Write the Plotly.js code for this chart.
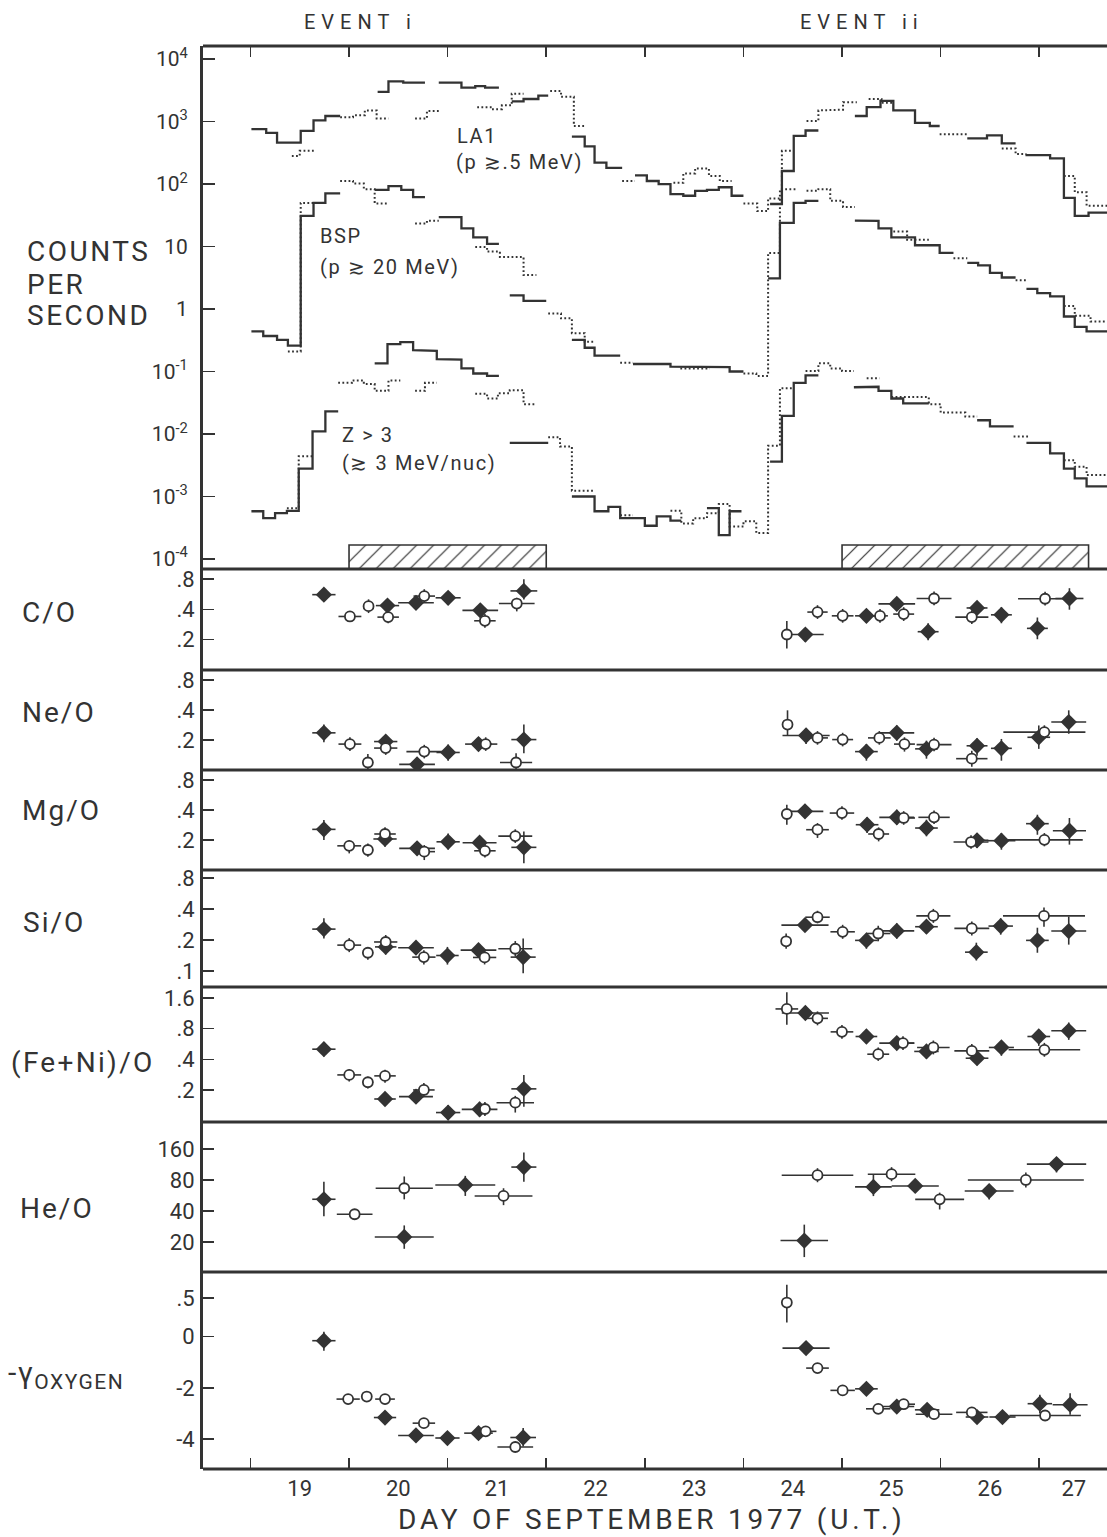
<!DOCTYPE html>
<html><head><meta charset="utf-8">
<script src="https://cdn.plot.ly/plotly-3.0.1.min.js"></script>
<style>html,body{margin:0;padding:0;background:#fff}</style>
</head><body>
<div id="chart" style="width:1107px;height:1537px"></div>
<script>
// ---------- DATA ----------
// Top panel histograms: [bin start day, counts/s]; null value = gap (end of a run)
const la1Solid = [[19.01,760],[19.16,660],[19.27,460],[19.51,710],[19.64,1050],[19.76,1230],[19.91,null],
 [20.29,3000],[20.40,4400],[20.55,4200],[20.77,null],
 [20.91,4200],[21.14,3500],[21.28,3700],[21.38,3500],[21.52,null],
 [21.65,2100],[21.77,2300],[21.92,2600],[22.02,null],
 [22.26,575],[22.39,400],[22.49,220],[22.61,182],[22.77,null],
 [22.90,138],[23.02,112],[23.14,100],[23.26,69],[23.39,65],[23.51,78],[23.63,81],[23.75,89],[23.88,65],[24.00,null],
 [24.27,48],[24.39,162],[24.51,590],[24.63,720],[24.76,null],
 [25.13,1230],[25.25,1700],[25.39,2140],[25.52,1510],[25.74,955],[25.89,850],[25.99,null],
 [26.27,537],[26.47,600],[26.62,447],[26.76,null],
 [26.86,290],[27.11,257],[27.25,60],[27.36,31],[27.50,35],[27.69,null]];
const la1Dotted = [[19.42,282],[19.50,340],[19.66,null],
 [19.91,1175],[20.04,1260],[20.16,1510],[20.28,1120],[20.40,null],
 [20.67,1120],[20.79,1480],[20.92,null],
 [21.30,1700],[21.45,1580],[21.55,1820],[21.65,2800],[21.77,null],
 [22.04,3100],[22.15,2500],[22.28,850],[22.39,null],
 [22.77,112],[22.90,null],
 [23.29,105],[23.39,148],[23.51,178],[23.65,135],[23.76,112],[23.88,null],
 [24.00,49],[24.14,37],[24.25,59],[24.39,340],[24.51,null],
 [24.64,1020],[24.76,1510],[24.90,1550],[25.01,2040],[25.15,null],
 [25.27,2290],[25.40,2000],[25.52,null],
 [25.99,630],[26.27,null],
 [26.62,372],[26.76,302],[26.87,null],
 [27.25,135],[27.36,74],[27.48,45],[27.69,null]];
const bspSolid = [[19.01,0.44],[19.13,0.37],[19.27,0.32],[19.38,0.26],[19.51,31],[19.64,50],[19.76,71],[19.91,null],
 [20.26,81],[20.40,93],[20.53,81],[20.65,62],[20.77,null],
 [20.91,29.5],[21.14,19.5],[21.26,14],[21.40,11],[21.52,null],
 [21.63,1.66],[21.77,1.35],[22.00,null],
 [22.26,0.32],[22.39,0.24],[22.49,0.18],[22.75,null],
 [22.88,0.132],[23.26,0.12],[23.53,0.118],[23.86,0.10],[24.00,null],
 [24.25,3.1],[24.37,24],[24.51,50],[24.63,54],[24.76,null],
 [25.13,26],[25.25,25.7],[25.37,19.5],[25.50,14],[25.74,10.5],[25.99,7.9],[26.13,null],
 [26.27,5.5],[26.38,5.0],[26.50,3.8],[26.62,3.2],[26.76,null],
 [26.87,2.1],[26.98,1.8],[27.11,1.6],[27.25,0.76],[27.36,0.52],[27.48,0.44],[27.69,null]];
const bspDotted = [[19.38,0.21],[19.51,50],[19.64,null],
 [19.91,112],[20.04,102],[20.15,83],[20.26,49],[20.40,null],
 [20.67,23.4],[20.79,26],[20.91,null],
 [21.28,9.8],[21.40,8.3],[21.53,6.8],[21.77,3.5],[21.90,null],
 [22.02,0.85],[22.15,0.71],[22.26,0.41],[22.39,0.30],[22.49,null],
 [22.75,0.138],[22.88,null],
 [23.36,0.112],[23.66,null],
 [24.00,0.093],[24.13,0.085],[24.25,7.9],[24.37,83],[24.54,null],
 [24.64,78],[24.76,83],[24.88,54],[25.01,43],[25.13,null],
 [25.52,17.4],[25.66,12.9],[25.88,null],
 [26.13,6.5],[26.27,null],
 [26.76,2.9],[26.87,null],
 [27.25,1.12],[27.36,0.78],[27.52,0.63],[27.69,null]];
const zSolid = [[19.01,5.8e-4],[19.13,4.5e-4],[19.25,5.4e-4],[19.37,5.9e-4],[19.49,2.8e-3],[19.63,1.1e-2],[19.76,2.3e-2],[19.89,null],
 [20.26,0.135],[20.39,0.275],[20.52,0.295],[20.65,0.22],[20.77,0.215],[20.89,0.158],[21.02,0.155],[21.14,0.112],[21.26,0.093],[21.40,0.085],[21.52,null],
 [21.63,7.2e-3],[22.02,null],
 [22.26,1.0e-3],[22.49,5.8e-4],[22.63,6.8e-4],[22.75,4.5e-4],[23.00,3.4e-4],[23.12,4.8e-4],[23.26,4.1e-4],[23.37,null],
 [23.63,6.5e-4],[23.75,2.4e-4],[23.86,5.8e-4],[23.98,null],
 [24.27,3.6e-3],[24.39,1.95e-2],[24.51,6.6e-2],[24.63,8.7e-2],[24.76,null],
 [25.12,0.056],[25.25,0.057],[25.37,0.049],[25.50,0.037],[25.62,0.031],[25.88,null],
 [26.37,0.0166],[26.50,0.0132],[26.74,null],
 [26.87,7.2e-3],[27.11,4.9e-3],[27.25,2.8e-3],[27.36,1.95e-3],[27.48,1.45e-3],[27.69,null]];
const zDotted = [[19.37,6.5e-4],[19.49,4.4e-3],[19.63,null],
 [19.89,0.066],[20.03,0.072],[20.15,0.063],[20.26,0.049],[20.40,0.072],[20.52,null],
 [20.67,0.049],[20.77,0.066],[20.89,null],
 [21.28,0.044],[21.40,0.037],[21.51,0.045],[21.63,0.050],[21.77,0.030],[21.90,null],
 [22.02,8.9e-3],[22.14,6.3e-3],[22.26,1.23e-3],[22.49,null],
 [22.75,5.0e-4],[22.88,null],
 [23.26,5.9e-4],[23.37,3.7e-4],[23.49,4.5e-4],[23.63,5.4e-4],[23.75,7.6e-4],[23.86,3.3e-4],[24.00,4.0e-4],[24.13,2.6e-4],[24.25,6.5e-3],[24.37,0.054],[24.49,null],
 [24.63,0.102],[24.76,0.135],[24.88,0.112],[25.00,0.102],[25.12,null],
 [25.25,0.078],[25.38,null],
 [25.50,0.039],[25.88,0.030],[26.00,0.022],[26.25,0.019],[26.37,null],
 [26.74,9.1e-3],[26.91,null],
 [27.25,3.8e-3],[27.36,3.0e-3],[27.48,2.2e-3],[27.69,null]];
// averaging intervals (hatched bars)
const hatchStart = [20.0, 25.0];
const hatchEnd   = [22.0, 27.5];

// Ratio panels: [day, value, half-width (days), upper end, lower end]  F = filled diamond, O = open circle
const coF = [[19.745,0.56,0.118,0.644,0.483],[20.390,0.436,0.118,0.483,0.397],[20.679,0.465,0.181],[21.005,0.521,0.127],
 [21.331,0.391,0.181,0.43,0.35],[21.773,0.61,0.136,0.795,0.50],[24.628,0.225,0.186,0.259,0.19],[25.247,0.345,0.115],
 [25.555,0.453,0.186,0.53,0.388],[25.873,0.24,0.106,0.291,0.197],[26.369,0.413,0.106],[26.616,0.353,0.106,0.42,0.291],
 [26.981,0.259,0.106,0.332,0.202],[27.306,0.513,0.142,0.649,0.397]];
const coO = [[20.009,0.340,0.116,0.367,0.315],[20.198,0.43,0.045],[20.397,0.335,0.109,0.36,0.291],[20.763,0.542,0.109],
 [21.378,0.308,0.109],[21.701,0.457,0.181,0.521,0.382],[24.440,0.225,0.053,0.307,0.163],[24.751,0.376,0.103],
 [25.006,0.345,0.110],[25.385,0.345,0.080],[25.625,0.359,0.106],[25.933,0.513,0.177],[26.316,0.335,0.168],[27.059,0.51,0.274]];
const neF = [[19.745,0.236,0.118,0.286,0.19],[20.372,0.193,0.118],[20.690,0.114,0.181,0.134,0.0995],[21.005,0.150,0.118,0.18,0.124],
 [21.313,0.182,0.136],[21.773,0.202,0.127,0.286,0.147],[24.635,0.222,0.239,0.259,0.182],[25.247,0.153,0.115,0.182,0.124],
 [25.555,0.236,0.177,0.28,0.197],[25.856,0.163,0.115,0.197,0.13],[26.369,0.175,0.106,0.208,0.139],[26.616,0.165,0.106,0.205,0.124],
 [26.995,0.213,0.115,0.28,0.163],[27.299,0.303,0.177,0.397,0.231]];
const neO = [[20.009,0.182,0.116],[20.191,0.119,0.054,0.145,0.102],[20.372,0.166,0.118],[20.763,0.153,0.181],
 [21.386,0.182,0.118],[21.694,0.119,0.163,0.147,0.0995],[24.447,0.286,0,0.397,0.222],[24.751,0.21,0.106],
 [25.006,0.202,0.106],[25.378,0.21,0.115],[25.633,0.182,0.106,0.213,0.153],[25.933,0.18,0.177],
 [26.316,0.13,0.159,0.156,0.108],[27.052,0.24,0.416]];
const mgF = [[19.745,0.256,0.118,0.318,0.2],[20.365,0.205,0.118,0.243,0.171],[20.690,0.165,0.181],[21.005,0.192,0.118,0.233,0.161],
 [21.324,0.188,0.172],[21.773,0.169,0.127,0.243,0.117],[24.624,0.388,0.186],[25.254,0.285,0.115,0.338,0.235],
 [25.555,0.338,0.177,0.403,0.285],[25.856,0.264,0.115,0.32,0.218],[26.369,0.199,0.115,0.235,0.166],[26.616,0.197,0.142,0.235,0.16],
 [26.981,0.292,0.115,0.359,0.226],[27.306,0.248,0.168,0.333,0.18]];
const mgO = [[20.002,0.175,0.121,0.2,0.147],[20.191,0.159,0.054,0.185,0.136],[20.365,0.23,0.109],[20.763,0.153,0.109,0.178,0.126],
 [21.378,0.156,0.109],[21.686,0.219,0.172],[24.440,0.365,0.053,0.453,0.285],[24.751,0.254,0.115,0.296,0.21],
 [24.999,0.373,0.124],[25.371,0.23,0.106,0.268,0.194],[25.625,0.333,0.115],[25.933,0.338,0.159],[26.308,0.191,0.177],
 [27.052,0.201,0.389,0.235,0.173]];
const siF = [[19.745,0.255,0.118,0.325,0.206],[20.372,0.171,0.109,0.203,0.144],[20.679,0.168,0.181,0.195,0.144],[20.998,0.141,0.114,0.171,0.115],
 [21.313,0.159,0.181,0.181,0.136],[21.766,0.136,0.127,0.206,0.0946],[24.624,0.279,0.239,0.318,0.24],[25.247,0.198,0.115,0.231,0.164],
 [25.555,0.245,0.177,0.29,0.206],[25.856,0.269,0.115,0.313,0.231],[26.362,0.152,0.115,0.188,0.126],[26.609,0.273,0.124,0.325,0.225],
 [26.981,0.198,0.115,0.263,0.15],[27.299,0.244,0.177,0.338,0.18]];
const siO = [[20.002,0.178,0.121],[20.191,0.150,0.054,0.171,0.128],[20.372,0.191,0.118],[20.759,0.136,0.118,0.159,0.115],
 [21.375,0.135,0.118],[21.686,0.164,0.172,0.195,0.138],[24.433,0.194,0,0.231,0.164],[24.751,0.333,0.124,0.385,0.29],
 [25.006,0.24,0.124],[25.367,0.231,0.124,0.275,0.194],[25.926,0.343,0.173],[26.316,0.259,0.177],[27.048,0.343,0.416,0.415,0.269]];
const feF = [[19.745,0.503,0.118,0.568,0.426],[20.365,0.163,0.109,0.185,0.139],[20.679,0.172,0.172,0.197,0.148],[21.005,0.12,0.123,0.142,0.101],
 [21.324,0.129,0.181,0.153,0.109],[21.773,0.205,0.127,0.281,0.137],[24.628,1.14,0.239],[25.247,0.67,0.110],
 [25.555,0.577,0.177,0.655,0.496],[25.856,0.478,0.124,0.551,0.407],[26.369,0.41,0.115,0.473,0.35],[26.616,0.523,0.127,0.608,0.433],
 [26.995,0.67,0.115,0.78,0.542],[27.299,0.762,0.177,0.92,0.621]];
const feO = [[20.002,0.281,0.121,0.319,0.242],[20.191,0.238,0.054,0.27,0.207],[20.365,0.275,0.109,0.315,0.236],[20.759,0.2,0.109],
 [21.378,0.13,0.063],[21.686,0.15,0.19,0.175,0.12],[24.440,1.25,0.115,1.82,0.873],[24.751,1.01,0.106],[24.999,0.744,0.115],
 [25.367,0.449,0.111,0.523,0.386],[25.618,0.577,0.115],[25.926,0.523,0.165],[26.316,0.484,0.177],[27.052,0.496,0.363]];
const heF = [[19.745,52,0.118,77,35.6],[20.560,22.4,0.299,29,17.2],[21.179,71.6,0.304,87.7,56],[21.773,106.7,0.127,148,77],
 [24.617,20.7,0.241,29.5,14.3],[25.318,68.5,0.186,91,55.8],[25.742,70,0.239],[26.492,62.5,0.248,72.6,51.8],[27.175,114,0.301,132,94.6]];
const heO = [[20.057,37.2,0.181,41.4,33],[20.560,66.5,0.290,86.5,51.9],[21.567,56,0.293,66.5,45.6],[24.751,89,0.363],
 [25.502,91,0.241],[25.990,51.9,0.248,60.3,41.4],[26.864,80,0.588,94.6,67.5]];
const gamF = [[19.745,-0.16,0.118,0.19,-0.55],[20.365,-3.16,0.113],[20.679,-3.86,0.181],[20.998,-3.96,0.123],[21.313,-3.77,0.145],
 [21.766,-3.94,0.130,-3.57,-4.29],[24.635,-0.45,0.239],[25.247,-2.04,0.115],[25.555,-2.73,0.177],[25.863,-2.86,0.124],
 [26.369,-3.14,0.115],[26.627,-3.14,0.133],[27.006,-2.62,0.124,-2.27,-2.99],[27.313,-2.66,0.177,-2.21,-3.05]];
const gamO = [[19.991,-2.44,0.118],[20.180,-2.34,0],[20.365,-2.44,0.1],[20.759,-3.38,0.114],[21.386,-3.70,0.109],[21.686,-4.31,0.181],
 [24.440,1.33,0,2.02,0.55],[24.751,-1.23,0.115],[25.006,-2.10,0.124],[25.367,-2.82,0.124],[25.625,-2.64,0.115],
 [25.933,-3.03,0.186],[26.316,-2.96,0.159],[27.059,-3.08,0.363]];

// tick labels
const dayTickVals = [19.5,20.5,21.5,22.5,23.5,24.5,25.5,26.5,27.35];
const dayTickText = ['19','20','21','22','23','24','25','26','27'];
const dayBoundaries = [19,20,21,22,23,24,25,26,27];
const countTickVals = [1e4,1e3,1e2,10,1,0.1,0.01,0.001,0.0001];
const countTickText = ['10<sup>4</sup>','10<sup>3</sup>','10<sup>2</sup>','10','1','10<sup>-1</sup>','10<sup>-2</sup>','10<sup>-3</sup>','10<sup>-4</sup>'];

// ---------- STYLE / BUILD ----------
const INK = '#333333';
const FONT = 'Roboto, "Open Sans", Lato, sans-serif';
const DOT = '1.8px,2.4px';

function steps(pairs){
  const x=[], y=[];
  for (let i=0;i<pairs.length-1;i++){
    const t=pairs[i][0], v=pairs[i][1];
    if (v===null) continue;
    const t1=pairs[i+1][0];
    x.push(t,t1); y.push(v,v);
    if (pairs[i+1][1]===null){ x.push(null); y.push(null); }
  }
  return {x,y};
}
function stepTrace(pairs, dotted){
  const s = steps(pairs);
  return {type:'scatter', mode:'lines', x:s.x, y:s.y, xaxis:'x2', yaxis:'y', connectgaps:false,
    hoverinfo:'skip', showlegend:false,
    line:{color:INK, width: dotted?2.0:2.3, dash: dotted?DOT:'solid'}};
}
function ptsTrace(rows, filled, yaxis, isLog){
  const x=[], y=[], ex=[], up=[], dn=[];
  rows.forEach(r=>{
    const v=r[1];
    const hi = (r[3]!==undefined) ? r[3] : (isLog ? v*1.17 : v+0.2);
    const lo = (r[4]!==undefined) ? r[4] : (isLog ? v/1.17 : v-0.2);
    x.push(r[0]); y.push(v); ex.push(r[2]); up.push(hi-v); dn.push(v-lo);
  });
  return {type:'scatter', mode:'markers', x, y, xaxis:'x', yaxis, showlegend:false, hoverinfo:'skip',
    marker: filled ? {symbol:'diamond', size:12.5, color:INK, line:{width:0}}
                   : {symbol:'circle', size:10, color:'#fff', line:{color:INK, width:1.8}},
    error_x:{type:'data', array:ex, symmetric:true, color:INK, thickness:1.6, width:0},
    error_y:{type:'data', array:up, arrayminus:dn, symmetric:false, color:INK, thickness:1.6, width:0}};
}
const hatchBottom = Math.pow(10,-4.16), hatchTop = 1.67e-4;
function hatchTrace(i){
  const a=hatchStart[i], b=hatchEnd[i];
  return {type:'scatter', mode:'lines', x:[a,b,b,a,a], y:[hatchBottom,hatchBottom,hatchTop,hatchTop,hatchBottom],
    xaxis:'x2', yaxis:'y', fill:'toself', fillcolor:'#fff', showlegend:false, hoverinfo:'skip',
    fillpattern:{shape:'/', size:12, solidity:0.1, fgcolor:INK, bgcolor:'#fff', fillmode:'replace'},
    line:{color:INK, width:1.6}};
}

const traces = [
  stepTrace(la1Dotted,true), stepTrace(la1Solid,false),
  stepTrace(bspDotted,true), stepTrace(bspSolid,false),
  stepTrace(zDotted,true), stepTrace(zSolid,false),
  hatchTrace(0), hatchTrace(1),
  ptsTrace(coF,true,'y2',true), ptsTrace(coO,false,'y2',true),
  ptsTrace(neF,true,'y3',true), ptsTrace(neO,false,'y3',true),
  ptsTrace(mgF,true,'y4',true), ptsTrace(mgO,false,'y4',true),
  ptsTrace(siF,true,'y5',true), ptsTrace(siO,false,'y5',true),
  ptsTrace(feF,true,'y6',true), ptsTrace(feO,false,'y6',true),
  ptsTrace(heF,true,'y7',true), ptsTrace(heO,false,'y7',true),
  ptsTrace(gamF,true,'y8',false), ptsTrace(gamO,false,'y8',false)
];

// panel boundaries in paper fraction (bottom -> top)
const D = [0, 0.1384, 0.2439, 0.3387, 0.4209, 0.4912, 0.5615, 0.6325, 1];
function yax(dom, opts){
  return Object.assign({domain:dom, anchor:'x', showline:true, linewidth:3, linecolor:INK, ticks:'inside',
    ticklen:11, tickwidth:1.6, tickcolor:INK, showgrid:false, zeroline:false, tickfont:{size:22, color:INK},
    ticklabelstandoff:1, fixedrange:true}, opts);
}
const XR = [18.519, 27.687];
const layout = {
  width:1107, height:1537, margin:{l:203, r:0, t:46, b:68}, paper_bgcolor:'#fff', plot_bgcolor:'#fff',
  font:{family:FONT, color:INK, size:18, weight:400}, showlegend:false,
  xaxis:{domain:[0,1], range:XR, anchor:'y8', tickmode:'array', tickvals:dayTickVals, ticktext:dayTickText,
    ticks:'', showline:false, showgrid:false, zeroline:false, tickfont:{size:22, color:INK}, ticklabelstandoff:4,
    minor:{tickmode:'array', tickvals:dayBoundaries, ticks:'inside', ticklen:11, tickwidth:1.6, tickcolor:INK, showgrid:false}},
  xaxis2:{domain:[0,1], range:XR, matches:'x', anchor:'y', side:'top', tickmode:'array', tickvals:dayBoundaries,
    ticks:'inside', ticklen:11, tickwidth:1.6, tickcolor:INK, showticklabels:false, showline:false, showgrid:false, zeroline:false},
  yaxis: Object.assign(yax([D[7],D[8]], {type:'log', range:[-4.16,4.21], tickmode:'array', tickvals:countTickVals,
    ticktext:countTickText, ticklen:12, tickfont:{size:21, color:INK}, ticklabelstandoff:8}), {anchor:'x2'}),
  yaxis2: yax([D[6],D[7]], {type:'log', range:[-1.0,0.0034], tickmode:'array', tickvals:[0.8,0.4,0.2], ticktext:['.8','.4','.2']}),
  yaxis3: yax([D[5],D[6]], {type:'log', range:[-1.0,0.0034], tickmode:'array', tickvals:[0.8,0.4,0.2], ticktext:['.8','.4','.2']}),
  yaxis4: yax([D[4],D[5]], {type:'log', range:[-1.0,0.0034], tickmode:'array', tickvals:[0.8,0.4,0.2], ticktext:['.8','.4','.2']}),
  yaxis5: yax([D[3],D[4]], {type:'log', range:[-1.158,-0.018], tickmode:'array', tickvals:[0.8,0.4,0.2,0.1], ticktext:['.8','.4','.2','.1']}),
  yaxis6: yax([D[2],D[3]], {type:'log', range:[-1.013,0.312], tickmode:'array', tickvals:[1.6,0.8,0.4,0.2], ticktext:['1.6','.8','.4','.2']}),
  yaxis7: yax([D[1],D[2]], {type:'log', range:[1.01,2.466], tickmode:'array', tickvals:[160,80,40,20], ticktext:['160','80','40','20']}),
  yaxis8: yax([D[0],D[1]], {type:'linear', range:[-5.17,2.52], tickmode:'array', tickvals:[1.5,0,-2,-4], ticktext:['.5','0','-2','-4']}),
  shapes: D.map(d=>({type:'line', xref:'paper', yref:'paper', x0:0, x1:1, y0:d, y1:d, line:{color:INK, width:3}})),
  annotations: []
};
function pa(px){ return (px-203)/904; }
function py(p){ return (1469-p)/1423; }
const A = layout.annotations;
function sp(text, ls){ return '<span style="letter-spacing:'+ls+'px">'+text+'</span>'; }
function lab(text, x, y, size, anchor, ls){
  A.push({text: sp(text, ls||2), xref:'paper', yref:'paper', x:pa(x), y:py(y), xanchor:anchor||'left', yanchor:'middle',
    showarrow:false, font:{size, color:INK}, align:'left'});
}
lab('EVENT i', 360, 22, 20, 'center', 6);
lab('EVENT ii', 862, 22, 20, 'center', 6);
lab('COUNTS', 25, 251, 28, 'left', 2.5);
lab('PER', 25, 284, 28, 'left', 2.5);
lab('SECOND', 25, 315, 28, 'left', 2.5);
lab('C/O', 20, 612, 28);
lab('Ne/O', 20, 712, 28);
lab('Mg/O', 20, 810, 28);
lab('Si/O', 21, 922, 28);
lab('(Fe+Ni)/O', 9, 1062, 28, 'left', 2.3);
lab('He/O', 18, 1208, 28);
lab('-γ<sub>OXYGEN</sub>', 6, 1374, 30, 'left', 1.5);
lab('DAY OF SEPTEMBER 1977 (U.T.)', 652, 1520, 28, 'center', 3.8);
// curve labels inside top panel (y given in log10 of counts/s)
function clab(text, day, logv){
  A.push({text: sp(text,1.6), xref:'x2', yref:'y', x:day, y:logv, xanchor:'left', yanchor:'middle', showarrow:false,
    font:{size:20, color:INK}});
}
clab('LA1', 21.075, 2.77);
clab('(p ≳.5 MeV)', 21.06, 2.35);
clab('BSP', 19.686, 1.168);
clab('(p ≳ 20 MeV)', 19.686, 0.672);
clab('Z > 3', 19.908, -2.02);
clab('(≳ 3 MeV/nuc)', 19.908, -2.46);

Plotly.newPlot('chart', traces, layout, {displayModeBar:false, staticPlot:true}).then(gd=>{
  // drop empty placeholder text nodes that plotly leaves behind
  gd.querySelectorAll('text').forEach(t=>{ if(!t.textContent.trim()) t.remove(); });
});
</script></body></html>
